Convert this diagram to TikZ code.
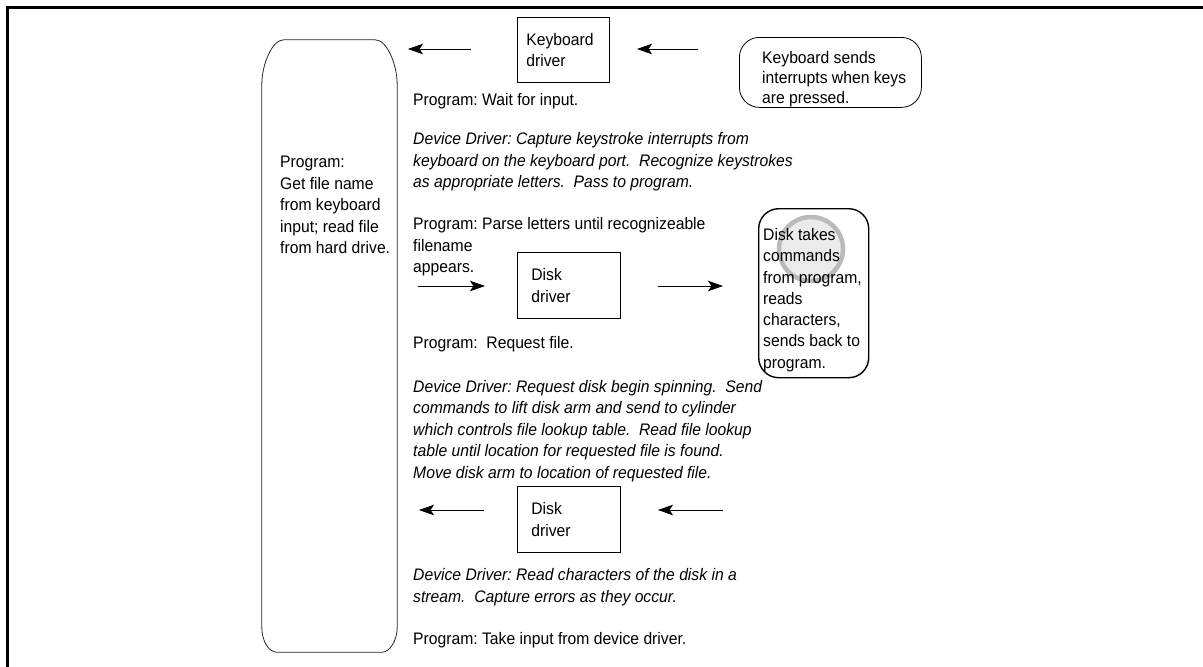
\documentclass[tikz,border=0pt]{standalone}
\usepackage{fontspec}
\setmainfont{Liberation Sans}[FakeStretch=0.94]
\usetikzlibrary{arrows.meta}
\frenchspacing
\tikzset{
  txt/.style={anchor=west, inner sep=0pt, align=left, font=\fontsize{16.7}{21.6}\selectfont},
  itxt/.style={txt, font=\fontsize{16.7}{21.6}\selectfont\itshape},
  drvbox/.style={draw, line width=0.8pt, anchor=north west, align=left, inner ysep=0pt,
    font=\fontsize{16.7}{21.6}\selectfont},
  roundbox/.style={draw, anchor=north west, rounded corners=20pt},
  arr/.style={line width=0.8pt, -{Stealth[length=15pt,width=10.5pt,inset=3.5pt]}},
  outl/.style={line width=0.8pt, draw=black!85},
}
\begin{document}
\begin{tikzpicture}[x=1pt,y=-1pt]
\useasboundingbox (0,0) rectangle (1203,667);
% frame
\draw[line width=3pt] (7.5,667) -- (7.5,7.5) -- (1203,7.5);

% big program box
\node[minimum width=135pt, minimum height=612pt, inner sep=0pt] (prog) at (329.5,346) {};
\draw[outl] ([xshift=22pt]prog.north west) -- ([xshift=-22pt]prog.north east)
  .. controls ([xshift=-10pt]prog.north east) and ([yshift=-25pt]prog.north east) .. ([yshift=-45pt]prog.north east)
  -- ([yshift=25pt]prog.south east)
  .. controls ([yshift=11pt]prog.south east) and ([xshift=-8pt]prog.south east) .. ([xshift=-15pt]prog.south east)
  -- ([xshift=15pt]prog.south west)
  .. controls ([xshift=7pt]prog.south west) and ([yshift=11pt]prog.south west) .. ([yshift=25pt]prog.south west)
  -- ([yshift=-45pt]prog.north west)
  .. controls ([yshift=-25pt]prog.north west) and ([xshift=10pt]prog.north west) .. ([xshift=22pt]prog.north west)
  -- cycle;
\node[txt] (progtxt) at (280,205) {Program:\\Get file name\\from keyboard\\input; read file\\from hard drive.};

% keyboard driver
\node[drvbox, minimum width=92pt, minimum height=65pt, text width=74pt, inner xsep=9pt] (kbd) at (517,17) {Keyboard\\driver};
% keyboard sends
\node[roundbox, line width=0.8pt, minimum width=182pt, minimum height=70pt] (kbs) at (739,37) {};
\node[txt, font=\fontsize{16.7}{20}\selectfont] (kbstxt) at (762,79) {Keyboard sends\\interrupts when keys\\are pressed.};

\coordinate (a1s) at (471,49);
\coordinate (a1e) at (408,49);
\coordinate (a2s) at (698,49);
\coordinate (a2e) at (637,49);
\draw[arr] (a1s) -- (a1e);
\draw[arr] (a2s) -- (a2e);

\node[txt] (p1) at (413,101) {Program: Wait for input.};
\node[itxt] (d1) at (413,162) {Device Driver: Capture keystroke interrupts from\\keyboard on the keyboard port.\ \ Recognize keystrokes\\as appropriate letters.\ \ Pass to program.};
\node[txt] (p2) at (413,247) {Program: Parse letters until recognizeable\\filename\\appears.};

% disk driver 1
\node[drvbox, minimum width=103pt, minimum height=66pt, text width=75pt, inner xsep=14pt] (dd1) at (517,252) {Disk\\driver};
\coordinate (a3s) at (418,286);
\coordinate (a3e) at (485,286);
\coordinate (a4s) at (658,286);
\coordinate (a4e) at (723,286);
\draw[arr] (a3s) -- (a3e);
\draw[arr] (a4s) -- (a4e);

% disk takes
\fill[fill=black!8, draw=black!27, line width=4.5pt] (811,249) circle (32pt);
\node[roundbox, line width=1.4pt, minimum width=110pt, minimum height=169pt] (disk) at (758,208) {};
\node[txt, font=\fontsize{16.7}{21.3}\selectfont] (disktxt) at (763,300) {Disk takes\\commands\\from program,\\reads\\characters,\\sends back to\\program.};

\node[txt] (p3) at (413,344) {Program:\ \ Request file.};
\node[itxt] (d2) at (413,431) {Device Driver: Request disk begin spinning.\ \ Send\\commands to lift disk arm and send to cylinder\\which controls file lookup table.\ \ Read file lookup\\table until location for requested file is found.\\Move disk arm to location of requested file.};

% disk driver 2
\node[drvbox, minimum width=103pt, minimum height=66pt, text width=75pt, inner xsep=14pt] (dd2) at (517,486) {Disk\\driver};
\coordinate (a5s) at (484,510);
\coordinate (a5e) at (419,510);
\coordinate (a6s) at (723,510);
\coordinate (a6e) at (658,510);
\draw[arr] (a5s) -- (a5e);
\draw[arr] (a6s) -- (a6e);

\node[itxt] (d3) at (413,587) {Device Driver: Read characters of the disk in a\\stream.\ \ Capture errors as they occur.};
\node[txt] (p4) at (413,640) {Program: Take input from device driver.};
\end{tikzpicture}
\end{document}
